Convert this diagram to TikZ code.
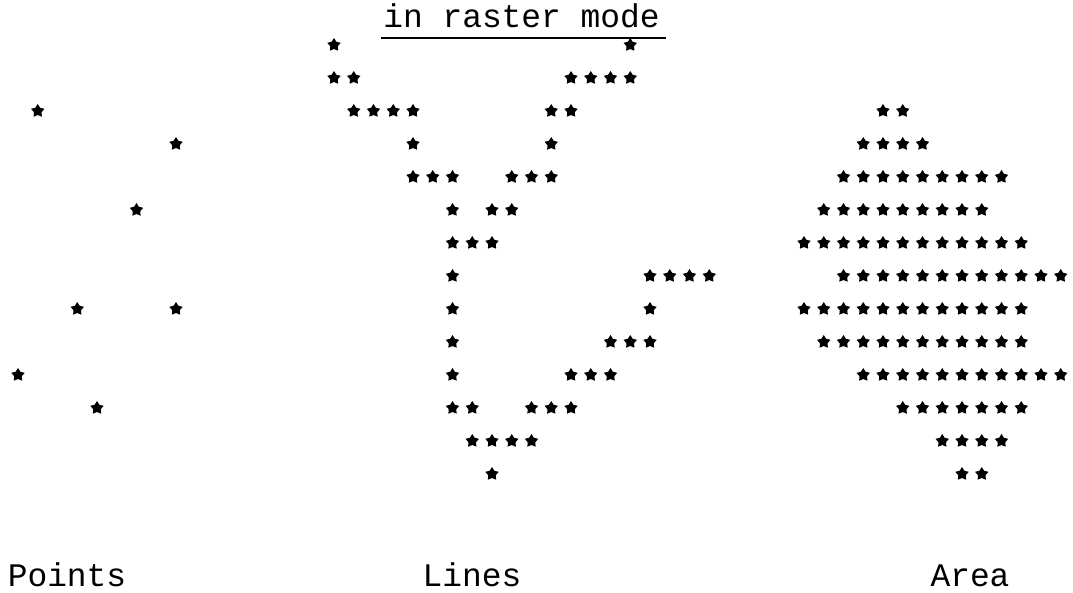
\documentclass[tikz,border=0pt]{standalone}
\usepackage{fontspec}
\setmonofont{Liberation Mono}
\usetikzlibrary{shapes.geometric}

\begin{document}
\begin{tikzpicture}[
    x=1pt, y=-1pt,
    dot/.style={star, star points=5, star point ratio=1.75, fill=black, inner sep=0pt, minimum size=14pt},
    label/.style={font=\ttfamily\fontsize{32.9}{36}\selectfont, inner sep=0pt, anchor=base}
  ]
    \useasboundingbox (0,0) rectangle (1073,592);

    % title
    \node[label] (title) at (521.5,27) {in raster mode};
    \coordinate (ul-l) at (381,38);
    \coordinate (ul-r) at (666,38);
    \draw[line width=2.3pt] (ul-l) -- (ul-r);

    % points
    \foreach \r/\cs in {2/{1}, 3/{8}, 5/{6}, 8/{3,8}, 10/{0}, 11/{4}}
      \foreach \c in \cs
        \node[dot] (pt-\r-\c) at (18+19.75*\c, 45+33*\r) {};

    % lines
    \foreach \r/\cs in {0/{16,31}, 1/{16,17,28,29,30,31}, 2/{17,18,19,20,27,28},
        3/{20,27}, 4/{20,21,22,25,26,27}, 5/{22,24,25}, 6/{22,23,24},
        7/{22,32,33,34,35}, 8/{22,32}, 9/{22,30,31,32}, 10/{22,28,29,30},
        11/{22,23,26,27,28}, 12/{23,24,25,26}, 13/{24}}
      \foreach \c in \cs
        \node[dot] (ln-\r-\c) at (18+19.75*\c, 45+33*\r) {};

    % area
    \begin{scope}[xshift=-4pt]
    \foreach \r/\cs in {2/{44,45}, 3/{43,...,46}, 4/{42,...,50}, 5/{41,...,49},
        6/{40,...,51}, 7/{42,...,53}, 8/{40,...,51}, 9/{41,...,51},
        10/{43,...,53}, 11/{45,...,51}, 12/{47,...,50}, 13/{48,49}}
      \foreach \c in \cs
        \node[dot] (ar-\r-\c) at (18+19.75*\c, 45+33*\r) {};
    \end{scope}

    % captions
    \node[label] (points) at (67,586) {Points};
    \node[label] (lines) at (472,586) {Lines};
    \node[label] (area) at (970,586) {Area};
\end{tikzpicture}
\end{document}
